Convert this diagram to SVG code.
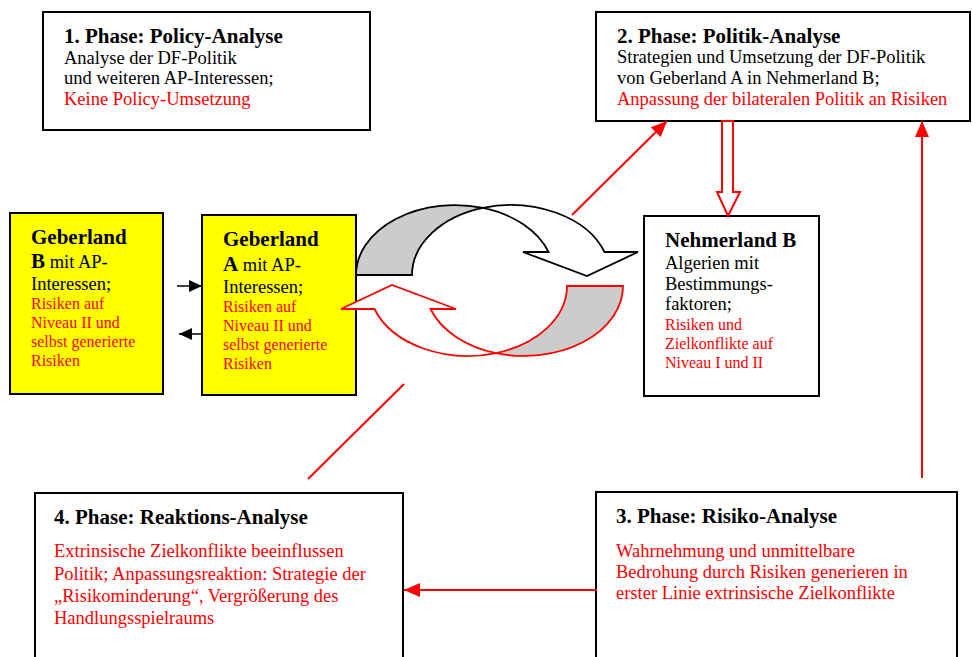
<svg xmlns="http://www.w3.org/2000/svg" width="972" height="657" viewBox="0 0 972 657">
<style>
text{font-family:"Liberation Serif","Times New Roman",serif;fill:#000}
.t{font-weight:bold;font-size:21px}
.b{font-size:18.5px}
.s{font-size:16px}
.r{fill:#ff0000}
.box{fill:#fff;stroke:#000;stroke-width:2}
.ybox{fill:#ffff00;stroke:#000;stroke-width:2}
.rl{stroke:#ff0000;stroke-width:2;fill:none}
.kl{stroke:#000;stroke-width:1.5;fill:none}
</style>
<defs>
<marker id="ra" viewBox="0 0 16 14" refX="16" refY="7" markerWidth="16" markerHeight="14" markerUnits="userSpaceOnUse" orient="auto"><path d="M0,0 L16,7 L0,14 z" fill="#ff0000"/></marker>
<marker id="ka" viewBox="0 0 13 12" refX="13" refY="6" markerWidth="13" markerHeight="12" markerUnits="userSpaceOnUse" orient="auto"><path d="M0,0 L13,6 L0,12 z" fill="#000"/></marker>
<g id="curved">
<path d="M356,275 A99,70 0 0 1 483,207.9 A99,70 0 0 0 412,275 Z" fill="#cccccc"/>
<path d="M483,207.9 A99,70 0 0 1 604.5,252 L638,252 L587,276 L523,252 L548.5,252 A99,70 0 0 0 483,207.9 Z" fill="#ffffff"/>
</g>
</defs>

<g id="phase1">
<rect class="box" x="43" y="12" width="327" height="118"/>
<text class="t" x="64" y="43">1. Phase: Policy-Analyse</text>
<text class="b" x="64" y="64">Analyse der DF-Politik</text>
<text class="b" x="64" y="84">und weiteren AP-Interessen;</text>
<text class="b r" x="64" y="105">Keine Policy-Umsetzung</text>
</g>

<g id="phase2">
<rect class="box" x="596" y="12" width="374" height="109"/>
<text class="t" x="617" y="43">2. Phase: Politik-Analyse</text>
<text class="b" x="617" y="63">Strategien und Umsetzung der DF-Politik</text>
<text class="b" x="617" y="84">von Geberland A in Nehmerland B;</text>
<text class="b r" x="617" y="105">Anpassung der bilateralen Politik an Risiken</text>
</g>

<g id="geberlandB">
<rect class="ybox" x="10" y="213" width="153" height="181"/>
<text class="t" x="31" y="244">Geberland</text>
<text x="31" y="268"><tspan class="t">B</tspan><tspan class="b"> mit AP-</tspan></text>
<text class="b" x="31" y="290">Interessen;</text>
<text class="s r" x="31" y="309">Risiken auf</text>
<text class="s r" x="31" y="328">Niveau II und</text>
<text class="s r" x="31" y="347">selbst generierte</text>
<text class="s r" x="31" y="366">Risiken</text>
</g>

<g id="geberlandA">
<rect class="ybox" x="202" y="215" width="154" height="180"/>
<text class="t" x="223" y="246">Geberland</text>
<text x="223" y="271"><tspan class="t">A</tspan><tspan class="b"> mit AP-</tspan></text>
<text class="b" x="223" y="293">Interessen;</text>
<text class="s r" x="223" y="312">Risiken auf</text>
<text class="s r" x="223" y="331">Niveau II und</text>
<text class="s r" x="223" y="350">selbst generierte</text>
<text class="s r" x="223" y="369">Risiken</text>
</g>

<g id="nehmerland">
<rect class="box" x="644" y="216" width="175" height="180"/>
<text class="t" x="665" y="247">Nehmerland B</text>
<text class="b" x="665" y="269">Algerien mit</text>
<text class="b" x="665" y="290">Bestimmungs-</text>
<text class="b" x="665" y="310">faktoren;</text>
<text class="s r" x="665" y="330">Risiken und</text>
<text class="s r" x="665" y="349">Zielkonflikte auf</text>
<text class="s r" x="665" y="368">Niveau I und II</text>
</g>

<g id="phase3">
<rect class="box" x="596" y="492" width="361" height="180"/>
<text class="t" x="616" y="523">3. Phase: Risiko-Analyse</text>
<text class="b r" x="616" y="557">Wahrnehmung und unmittelbare</text>
<text class="b r" x="616" y="578">Bedrohung durch Risiken generieren in</text>
<text class="b r" x="616" y="599">erster Linie extrinsische Zielkonflikte</text>
</g>

<g id="phase4">
<rect class="box" x="35" y="493" width="368" height="180"/>
<text class="t" x="54" y="524">4. Phase: Reaktions-Analyse</text>
<text class="b r" x="54" y="557">Extrinsische Zielkonflikte beeinflussen</text>
<text class="b r" x="54" y="580">Politik; Anpassungsreaktion: Strategie der</text>
<text class="b r" x="54" y="602">„Risikominderung“, Vergrößerung des</text>
<text class="b r" x="54" y="624">Handlungsspielraums</text>
</g>

<g id="connectors">
<g id="cycle-black" stroke="#000" stroke-width="1.8" stroke-linejoin="miter">
<use href="#curved"/>
</g>
<g id="cycle-red" stroke="#ff0000" stroke-width="1.8" transform="rotate(180 489.5 280.5)">
<use href="#curved"/>
</g>
<line class="kl" x1="177" y1="286" x2="202" y2="286" marker-end="url(#ka)"/>
<line class="kl" x1="202" y1="334" x2="179" y2="334" marker-end="url(#ka)"/>
<line class="rl" x1="572" y1="215" x2="667" y2="121" marker-end="url(#ra)"/>
<line class="rl" x1="922" y1="478" x2="922" y2="121" marker-end="url(#ra)"/>
<line class="rl" x1="597" y1="590" x2="404" y2="590" marker-end="url(#ra)"/>
<line class="rl" x1="404" y1="384" x2="308" y2="479"/>
<path d="M722,121 L733,121 L733,192 L740,192 L728,216 L717,192 L722,192 Z" fill="#fff" stroke="#ff0000" stroke-width="2"/>
</g>
</svg>
